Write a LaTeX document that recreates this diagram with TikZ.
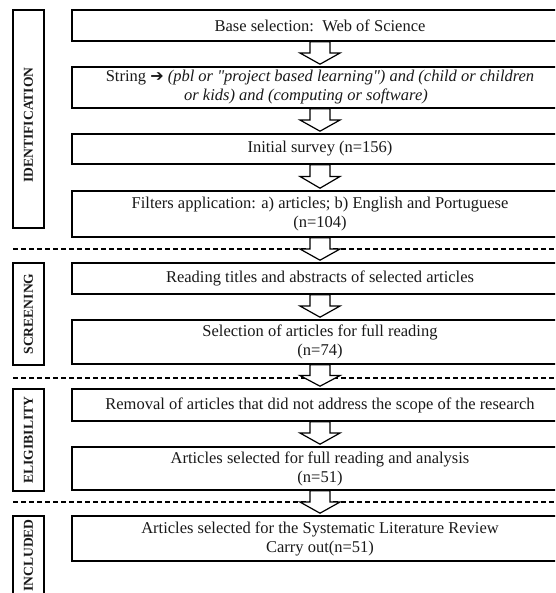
\documentclass[tikz,border=0pt]{standalone}
\usepackage{fontspec}
\setmainfont{Liberation Serif}[Ligatures=TeXOff]
\newfontfamily\symfont{DejaVu Sans}
\usetikzlibrary{calc}
\tikzset{
  mainbox/.style={draw, line width=1.6pt, minimum width=496pt, inner sep=0pt,
    align=center, font=\fontsize{16.5}{19}\selectfont, text=black!90},
  labelbox/.style={draw, line width=1.6pt, minimum width=31pt, inner sep=0pt},
  labeltext/.style={rotate=90, font=\fontsize{13.6}{16}\selectfont\bfseries, inner sep=0pt, text=black!90},
  hollow/.style={draw, fill=white, line width=1.2pt, line join=miter},
  phase/.style={dashed, dash pattern=on 5pt off 3pt, line width=1.1pt}
}
\newcommand\flowarrow[2]{%
  \path[hollow] let \p1=(#1.south), \p2=(#2.north), \n1={(\y1-\y2)*0.46} in
    (\x1-10pt,\y1) -- (\x1-10pt,\y1-\n1) -- (\x1-20pt,\y1-\n1) -- (\x1,\y2+2pt)
    -- (\x1+20pt,\y1-\n1) -- (\x1+10pt,\y1-\n1) -- (\x1+10pt,\y1) -- cycle;}
\begin{document}
\begin{tikzpicture}[x=1pt,y=-1pt]
\useasboundingbox (0,0) rectangle (555,593);
\clip (0,0) rectangle (555,593);
% phase separators
\draw[phase] (13,249) -- (560,249);
\draw[phase] (13,378) -- (560,378);
\draw[phase] (13,502) -- (560,502);
% phase labels
\node[labelbox, minimum height=218pt] (L1) at (28.5,119) {};
\node[labeltext] (T1) at (28.5,125) {IDENTIFICATION};
\node[labelbox, minimum height=102pt] (L2) at (28.5,314) {};
\node[labeltext] (T2) at (L2.center) {SCREENING};
\node[labelbox, minimum height=102pt] (L3) at (28.5,440) {};
\node[labeltext] (T3) at (L3.center) {ELIGIBILITY};
\node[labelbox, minimum height=85pt] (L4) at (28.5,558.5) {};
\node[labeltext] (T4) at (28.5,555.5) {INCLUDED};
% main boxes
\node[mainbox, minimum height=31pt] (b1) at (320,25.5) {Base selection:\ \ Web of Science};
\node[mainbox, minimum height=41pt] (b2) at (320,87.5) {String {\symfont\fontsize{16}{19}\selectfont ➔} \textit{(pbl or "project based learning") and (child or children}\\\textit{or kids) and (computing or software)}\hspace*{28pt}};
\node[mainbox, minimum height=30pt] (b3) at (320,149) {Initial survey (n=156)};
\node[mainbox, minimum height=46pt] (b4) at (320,214) {Filters application: a) articles; b) English and Portuguese\\(n=104)};
\node[mainbox, minimum height=31pt] (b5) at (320,278.5) {Reading titles and abstracts of selected articles};
\node[mainbox, minimum height=44pt] (b6) at (320,342) {Selection of articles for full reading\\(n=74)};
\node[mainbox, minimum height=32pt] (b7) at (320,405) {Removal of articles that did not address the scope of the research};
\node[mainbox, minimum height=43pt] (b8) at (320,468.5) {Articles selected for full reading and analysis\\(n=51)};
\node[mainbox, minimum height=45pt] (b9) at (320,538.5) {Articles selected for the Systematic Literature Review\\Carry out(n=51)};
% arrows
\flowarrow{b1}{b2}
\flowarrow{b2}{b3}
\flowarrow{b3}{b4}
\flowarrow{b4}{b5}
\flowarrow{b5}{b6}
\flowarrow{b6}{b7}
\flowarrow{b7}{b8}
\flowarrow{b8}{b9}
\end{tikzpicture}
\end{document}
